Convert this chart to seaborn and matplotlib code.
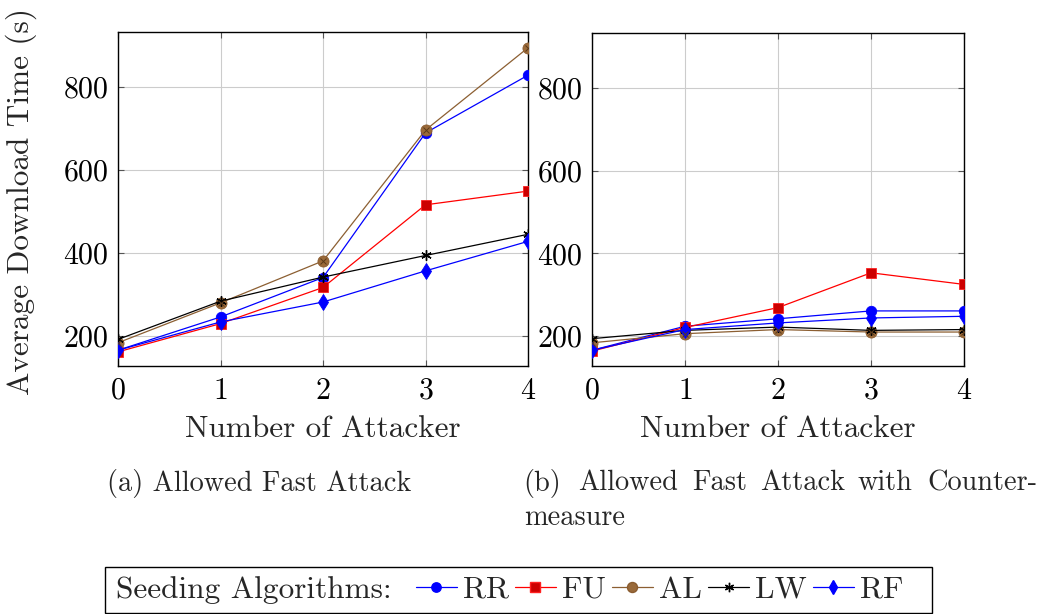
import matplotlib
matplotlib.use("Agg")
import matplotlib.pyplot as plt
import seaborn as sns
import pandas as pd
from matplotlib.lines import Line2D
from matplotlib.patches import Rectangle

# ---------------- data ----------------
attackers = [0, 1, 2, 3, 4]
series_names = ["RR", "FU", "AL", "LW", "RF"]

# (a) Allowed Fast Attack
a_RR = [166, 246, 341, 689, 828]
a_FU = [162, 230, 317, 516, 549]
a_AL = [184, 280, 381, 696, 894]
a_LW = [192, 284, 342, 394, 445]
a_RF = [166, 234, 282, 357, 428]

# (b) Allowed Fast Attack with Countermeasure
b_RR = [166, 224, 242, 261, 261]
b_FU = [164, 221, 269, 353, 325]
b_AL = [184, 206, 216, 210, 210]
b_LW = [194, 214, 222, 214, 216]
b_RF = [166, 216, 232, 244, 248]

yticks = [200, 400, 600, 800]
ylim = (128, 932)

xlabel = "Number of Attacker"
ylabel = "Average Download Time (s)"
legend_title = "Seeding Algorithms:"

# ---------------- styling ----------------
sns.set_theme(style="whitegrid")
plt.rcParams["font.family"] = ["cmr10", "DejaVu Serif"]
plt.rcParams["axes.formatter.use_mathtext"] = True
plt.rcParams["mathtext.fontset"] = "cm"

LAB = 22.5
TICK = 21.5
CAP = 20.4

styles = {
    "RR": dict(color="#0000ff", marker="o", mfc="#0000ff", mec="#0000ff", ms=7.5),
    "FU": dict(color="#ff0000", marker="s", mfc="#cc0000", mec="#ff2020", ms=7.5),
    "AL": dict(color="#8c5f32", marker="o", mfc="#9a6a3a", mec="#8a5c30", ms=8),
    "LW": dict(color="#000000", marker=(6, 2, 0), mfc="#000000", mec="#000000", ms=7.5),
    "RF": dict(color="#0000ff", marker="d", mfc="#0000ff", mec="#0000ff", ms=8),
}

fig = plt.figure(figsize=(10.42, 6.14), dpi=100)
W, H = 1042.0, 614.0

def fx(px):
    return px / W

def fy(py):
    return 1 - py / H

ax1 = fig.add_axes([fx(118), fy(366), fx(528) - fx(118), fy(32) - fy(366)])
ax2 = fig.add_axes([fx(592), fy(366), fx(964) - fx(592), fy(33) - fy(366)])

panels = [
    (ax1, {"RR": a_RR, "FU": a_FU, "AL": a_AL, "LW": a_LW, "RF": a_RF}),
    (ax2, {"RR": b_RR, "FU": b_FU, "AL": b_AL, "LW": b_LW, "RF": b_RF}),
]

for ax, data in panels:
    for name in series_names:
        st = styles[name]
        df = pd.DataFrame({"x": attackers, "y": data[name]})
        sns.lineplot(data=df, x="x", y="y", ax=ax, color=st["color"], lw=0.9,
                     marker=st["marker"], markersize=st["ms"],
                     markerfacecolor=st["mfc"], markeredgecolor=st["mec"],
                     markeredgewidth=1.0 if name == "LW" else 0.6, zorder=3)
        if name == "AL":
            sns.lineplot(data=df, x="x", y="y", ax=ax, lw=0, marker="x",
                         markersize=4.5, markeredgecolor="#5a3a1a",
                         markeredgewidth=0.7, zorder=3.1)
    ax.set_xlim(0, 4)
    ax.set_ylim(*ylim)
    ax.set_xticks(attackers)
    ax.set_yticks(yticks)
    ax.set_xlabel("")
    ax.set_ylabel("")
    ax.grid(True, color="#cccccc", lw=0.8)
    ax.set_facecolor("white")
    for sp in ax.spines.values():
        sp.set_color("black")
        sp.set_linewidth(1.0)
    ax.tick_params(axis="both", which="major", labelsize=TICK, direction="in",
                   length=4, width=0.8, color="#555555", pad=7,
                   bottom=True, left=True, top=True, right=True)
    ax.tick_params(axis="x", pad=8)
    ax.tick_params(axis="both", labelcolor="black")

# axis labels
fig.text(fx(323), fy(429), xlabel, ha="center", va="center", fontsize=LAB)
fig.text(fx(778), fy(429), xlabel, ha="center", va="center", fontsize=LAB)
fig.text(fx(21), fy(202), ylabel, ha="center", va="center", fontsize=LAB, rotation=90)

# captions
fig.text(fx(107), fy(483), "(a) Allowed Fast Attack", ha="left", va="center", fontsize=CAP)
b_words = ["(b)", "Allowed", "Fast", "Attack", "with", "Counter-"]
b_x = [523, 578, 692, 760, 857, 927]
for w, x in zip(b_words, b_x):
    fig.text(fx(x), fy(483), w, ha="left", va="center", fontsize=CAP)
fig.text(fx(524), fy(518), "measure", ha="left", va="center", fontsize=CAP)

# legend
fig.patches.append(Rectangle((fx(105), fy(613)), fx(932) - fx(105), fy(567) - fy(613),
                             transform=fig.transFigure, fill=False, ec="black", lw=1.0))
fig.text(fx(116), fy(590), legend_title, ha="left", va="center", fontsize=LAB)
handles = []
for name in series_names:
    st = styles[name]
    handles.append(Line2D([0], [0], color=st["color"], lw=0.9, marker=st["marker"],
                          markersize=st["ms"] * 0.9, markerfacecolor=st["mfc"],
                          markeredgecolor=st["mec"], label=name))
fig.legend(handles=handles, loc="center left", bbox_to_anchor=(fx(416), fy(590)),
           ncol=5, frameon=False, fontsize=LAB, handlelength=1.3, handletextpad=0.2,
           columnspacing=0.2, borderpad=0, borderaxespad=0)

fig.savefig("out.png", dpi=100)
